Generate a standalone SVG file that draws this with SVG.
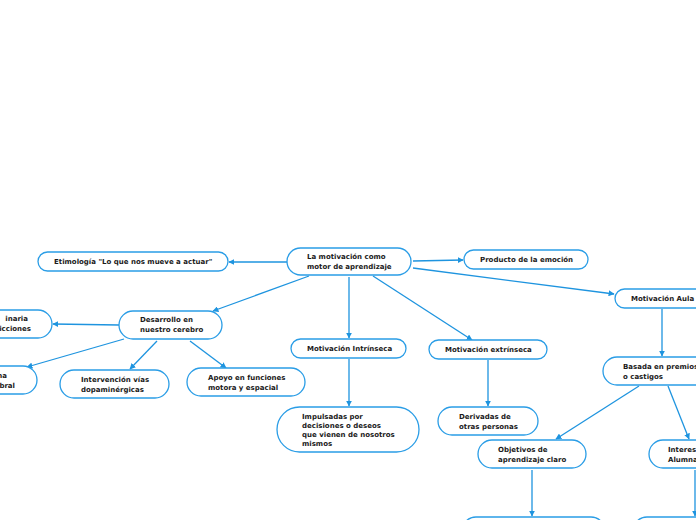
<svg xmlns="http://www.w3.org/2000/svg" width="696" height="520" viewBox="0 0 696 520">
<defs>
<style>
.n rect{fill:#fff;stroke:#2a9de6;stroke-width:1.3}
.n text{font-family:"DejaVu Sans",Verdana,sans-serif;font-size:7px;font-weight:bold;fill:#1a1a1a}
.c line{stroke:#1e94df;stroke-width:1.3;fill:none}
</style>
<marker id="a" viewBox="0 0 10 10" refX="9" refY="5" markerWidth="6" markerHeight="6" markerUnits="userSpaceOnUse" orient="auto">
<path d="M0,0L10,5L0,10z" fill="#1e94df"/>
</marker>
</defs>
<rect width="696" height="520" fill="#fff"/>
<g class="c" marker-end="url(#a)">
<line x1="287" y1="262" x2="229" y2="262" marker-end="url(#a)"/>
<line x1="413" y1="261" x2="463" y2="260" marker-end="url(#a)"/>
<line x1="413" y1="268" x2="614" y2="294" marker-end="url(#a)"/>
<line x1="309" y1="276" x2="213" y2="311" marker-end="url(#a)"/>
<line x1="349" y1="277" x2="349" y2="338" marker-end="url(#a)"/>
<line x1="373" y1="276" x2="472" y2="340" marker-end="url(#a)"/>
<line x1="119" y1="325" x2="53" y2="324" marker-end="url(#a)"/>
<line x1="124" y1="339" x2="27" y2="367" marker-end="url(#a)"/>
<line x1="157" y1="341" x2="130" y2="369" marker-end="url(#a)"/>
<line x1="190" y1="341" x2="226" y2="368" marker-end="url(#a)"/>
<line x1="349" y1="359" x2="349" y2="406" marker-end="url(#a)"/>
<line x1="488" y1="360" x2="488" y2="406" marker-end="url(#a)"/>
<line x1="662" y1="309" x2="662" y2="356" marker-end="url(#a)"/>
<line x1="639" y1="386" x2="556" y2="439" marker-end="url(#a)"/>
<line x1="668" y1="386" x2="689" y2="439" marker-end="url(#a)"/>
<line x1="532" y1="470" x2="532" y2="516" marker-end="url(#a)"/>
<line x1="695" y1="470" x2="695" y2="516" marker-end="url(#a)"/>
</g>
<g id="central" class="n"><rect x="287" y="248" width="124" height="27" rx="13.5"/><text x="307" y="259">La motivación como</text><text x="307" y="268.5">motor de aprendizaje</text></g>
<g id="etimologia" class="n"><rect x="38" y="252" width="190" height="19" rx="9.5"/><text x="54" y="264">Etimología "Lo que nos mueve a actuar"</text></g>
<g id="producto" class="n"><rect x="464" y="250" width="124" height="19" rx="9.5"/><text x="480" y="262">Producto de la emoción</text></g>
<g id="aula" class="n"><rect x="615" y="289" width="100" height="19" rx="9.5"/><text x="631" y="301">Motivación Aula</text></g>
<g id="desarrollo" class="n"><rect x="119" y="311" width="103" height="28" rx="14"/><text x="140" y="322">Desarrollo en</text><text x="140" y="331.5">nuestro cerebro</text></g>
<g id="left1" class="n"><rect x="-60" y="310" width="112" height="28" rx="14"/><text x="28" y="321" text-anchor="end">inaria</text><text x="31" y="330.5" text-anchor="end">icciones</text></g>
<g id="left2" class="n"><rect x="-80" y="366" width="117" height="28" rx="14"/><text x="7" y="378" text-anchor="end">na</text><text x="15" y="387.5" text-anchor="end">bral</text></g>
<g id="intervencion" class="n"><rect x="60" y="370" width="109" height="28" rx="14"/><text x="81" y="382">Intervención vías</text><text x="81" y="391.5">dopaminérgicas</text></g>
<g id="apoyo" class="n"><rect x="187" y="368" width="118" height="28" rx="14"/><text x="208" y="380">Apoyo en funciones</text><text x="208" y="389.5">motora y espacial</text></g>
<g id="intrinseca" class="n"><rect x="291" y="339" width="115" height="19" rx="9.5"/><text x="307" y="351">Motivación Intrínseca</text></g>
<g id="extrinseca" class="n"><rect x="429" y="340" width="118" height="19" rx="9.5"/><text x="445" y="352">Motivación extrínseca</text></g>
<g id="impulsadas" class="n"><rect x="277" y="407" width="142" height="45" rx="22.5"/><text x="302" y="419">Impulsadas por</text><text x="302" y="428">decisiones o deseos</text><text x="302" y="437">que vienen de nosotros</text><text x="302" y="446">mismos</text></g>
<g id="derivadas" class="n"><rect x="438" y="407" width="100" height="28" rx="14"/><text x="459" y="419">Derivadas de</text><text x="459" y="428.5">otras personas</text></g>
<g id="basada" class="n"><rect x="603" y="357" width="110" height="28" rx="14"/><text x="623" y="369">Basada en premios</text><text x="623" y="378.5">o castigos</text></g>
<g id="objetivos" class="n"><rect x="478" y="440" width="108" height="28" rx="14"/><text x="498" y="452">Objetivos de</text><text x="498" y="461.5">aprendizaje claro</text></g>
<g id="interes" class="n"><rect x="649" y="440" width="80" height="28" rx="14"/><text x="668" y="452">Interes</text><text x="668" y="461.5">Alumna</text></g>
<g id="bottom1" class="n"><rect x="462" y="517" width="143" height="28" rx="14"/></g>
<g id="bottom2" class="n"><rect x="633" y="517" width="100" height="28" rx="14"/></g>
</svg>
